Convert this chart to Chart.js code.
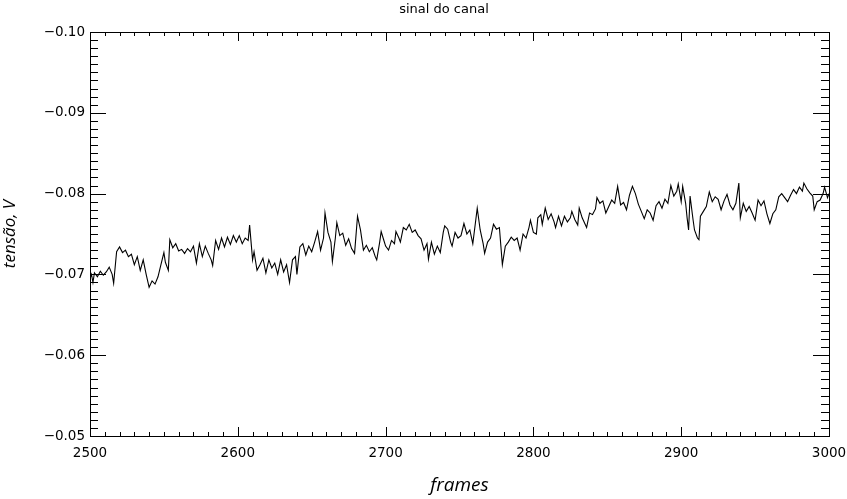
<!DOCTYPE html>
<html>
<head>
<meta charset="utf-8">
<script src="https://cdn.jsdelivr.net/npm/chart.js@4.4.1/dist/chart.umd.min.js"></script>
<style>
  html, body { margin: 0; padding: 0; background: #fff; }
  #wrap { width: 847px; height: 499px; }
</style>
</head>
<body>
<div id="wrap"><canvas id="chart" width="847" height="499"></canvas></div>
<script>
const chartTitle = 'sinal do canal';
const xTitle = 'frames';
const yTitle = 'tensão, V';

// frames
const frames = [
  2500, 2501, 2502, 2503, 2505, 2507, 2509, 2511, 2513, 2515, 2516, 2518, 2520, 2522, 2524, 2526, 2528, 2530, 2532, 2534,
  2536, 2538, 2540, 2542, 2544, 2546, 2548, 2550, 2551, 2553, 2554, 2556, 2558, 2560, 2562, 2564, 2566, 2568, 2570, 2572,
  2574, 2576, 2578, 2580, 2582, 2583, 2585, 2587, 2589, 2591, 2593, 2595, 2597, 2599,
  2601, 2603, 2605, 2607, 2608, 2610, 2611, 2613, 2615, 2617, 2619, 2621, 2623, 2625, 2627, 2629, 2631, 2633, 2635, 2637,
  2639, 2640, 2642, 2644, 2646, 2648, 2650, 2652, 2654, 2656, 2658, 2659, 2661, 2663, 2664, 2666, 2667, 2669, 2671, 2673,
  2675, 2677, 2679, 2681, 2683, 2685, 2687, 2689, 2691, 2693, 2694, 2696, 2697, 2699,
  2700, 2702, 2704, 2706, 2707, 2709, 2710, 2712, 2714, 2716, 2718, 2720, 2722, 2724, 2726, 2728, 2729, 2731, 2733, 2735,
  2737, 2739, 2740, 2742, 2744, 2745, 2747, 2749, 2751, 2753, 2755, 2757, 2759, 2762, 2764, 2766, 2767, 2769, 2771, 2773,
  2775, 2777, 2778, 2779, 2781, 2783, 2785, 2787, 2789, 2791, 2793, 2795, 2797, 2798, 2800,
  2802, 2803, 2805, 2806, 2808, 2810, 2812, 2814, 2815, 2817, 2819, 2821, 2823, 2825, 2826, 2828, 2830, 2831, 2833, 2835,
  2836, 2838, 2840, 2842, 2843, 2845, 2847, 2849, 2851, 2853, 2855, 2857, 2859, 2861, 2863, 2865, 2867, 2869, 2871, 2873,
  2875, 2877, 2879, 2881, 2883, 2885, 2887, 2889, 2891, 2893, 2895, 2897, 2898, 2900,
  2901, 2903, 2904, 2905, 2906, 2908, 2909, 2911, 2912, 2913, 2915, 2917, 2919, 2921, 2923, 2925, 2927, 2929, 2931, 2933,
  2935, 2937, 2939, 2940, 2942, 2944, 2946, 2948, 2950, 2952, 2954, 2956, 2958, 2960, 2962, 2964, 2966, 2968, 2970, 2972,
  2974, 2976, 2978, 2980, 2982, 2983, 2985, 2987, 2989, 2990, 2992, 2994, 2996, 2997, 2999, 3000
];

// tension in volts, same order as frames
const tensao = [
  -0.0695, -0.0700, -0.0690, -0.0702, -0.0697, -0.0704, -0.0699, -0.0703, -0.0709, -0.0700, -0.0689, -0.0728, -0.0734, -0.0727, -0.0730, -0.0722, -0.0725, -0.0712, -0.0722, -0.0705,
  -0.0718, -0.0700, -0.0684, -0.0692, -0.0688, -0.0697, -0.0712, -0.0727, -0.0715, -0.0705, -0.0743, -0.0733, -0.0738, -0.0729, -0.0731, -0.0726, -0.0732, -0.0728, -0.0735, -0.0714,
  -0.0738, -0.0722, -0.0735, -0.0726, -0.0718, -0.0711, -0.0742, -0.0731, -0.0745, -0.0734, -0.0746, -0.0737, -0.0748, -0.0740,
  -0.0748, -0.0738, -0.0745, -0.0742, -0.0761, -0.0718, -0.0728, -0.0705, -0.0712, -0.0720, -0.0702, -0.0718, -0.0708, -0.0714, -0.0700, -0.0718, -0.0703, -0.0712, -0.0690, -0.0718,
  -0.0722, -0.0700, -0.0734, -0.0738, -0.0724, -0.0735, -0.0728, -0.0740, -0.0753, -0.0730, -0.0745, -0.0776, -0.0752, -0.0740, -0.0716, -0.0745, -0.0764, -0.0748, -0.0751, -0.0736,
  -0.0744, -0.0732, -0.0726, -0.0772, -0.0755, -0.0730, -0.0736, -0.0728, -0.0733, -0.0722, -0.0718, -0.0740, -0.0753, -0.0741,
  -0.0735, -0.0730, -0.0742, -0.0738, -0.0753, -0.0745, -0.0740, -0.0758, -0.0755, -0.0762, -0.0752, -0.0755, -0.0748, -0.0744, -0.0730, -0.0738, -0.0719, -0.0740, -0.0725, -0.0735,
  -0.0727, -0.0752, -0.0760, -0.0756, -0.0740, -0.0735, -0.0752, -0.0745, -0.0748, -0.0763, -0.0750, -0.0755, -0.0738, -0.0782, -0.0755, -0.0738, -0.0726, -0.0740, -0.0745, -0.0762,
  -0.0756, -0.0758, -0.0735, -0.0712, -0.0735, -0.0740, -0.0746, -0.0742, -0.0745, -0.0730, -0.0750, -0.0745, -0.0758, -0.0767, -0.0752,
  -0.0750, -0.0770, -0.0774, -0.0762, -0.0782, -0.0768, -0.0775, -0.0765, -0.0758, -0.0772, -0.0760, -0.0772, -0.0765, -0.0770, -0.0778, -0.0768, -0.0761, -0.0782, -0.0770, -0.0762,
  -0.0758, -0.0776, -0.0774, -0.0781, -0.0795, -0.0788, -0.0791, -0.0776, -0.0784, -0.0792, -0.0788, -0.0809, -0.0786, -0.0789, -0.0780, -0.0798, -0.0809, -0.0800, -0.0787, -0.0778,
  -0.0769, -0.0780, -0.0776, -0.0767, -0.0785, -0.0790, -0.0782, -0.0793, -0.0788, -0.0810, -0.0797, -0.0803, -0.0812, -0.0790,
  -0.0809, -0.0788, -0.0770, -0.0755, -0.0797, -0.0768, -0.0755, -0.0745, -0.0743, -0.0772, -0.0778, -0.0784, -0.0802, -0.0790, -0.0796, -0.0793, -0.0780, -0.0791, -0.0799, -0.0786,
  -0.0780, -0.0788, -0.0813, -0.0770, -0.0788, -0.0778, -0.0784, -0.0776, -0.0767, -0.0792, -0.0785, -0.0791, -0.0775, -0.0763, -0.0775, -0.0780, -0.0796, -0.0800, -0.0795, -0.0790,
  -0.0798, -0.0805, -0.0800, -0.0808, -0.0803, -0.0813, -0.0806, -0.0801, -0.0797, -0.0780, -0.0790, -0.0792, -0.0800, -0.0808, -0.0795, -0.0800
];

const xMin = 2500, xMax = 3000, xStep = 100, xMinorStep = 10;
const yMin = -0.10, yMax = -0.05, yStep = 0.01, yMinorStep = 0.001;

const points = frames.map((f, i) => ({ x: f, y: tensao[i] }));

// IDL style box: border on all sides, ticks pointing inward, title on top
const boxPlugin = {
  id: 'box',
  afterDraw(chart) {
    const ctx = chart.ctx;
    const a = chart.chartArea;
    const xs = chart.scales.x;
    const ys = chart.scales.y;
    ctx.save();
    ctx.strokeStyle = '#000';
    ctx.lineWidth = 1;
    ctx.strokeRect(a.left + 0.5, a.top + 0.5, a.right - a.left, a.bottom - a.top);

    ctx.beginPath();
    const nx = Math.round((xMax - xMin) / xMinorStep);
    for (let i = 0; i <= nx; i++) {
      const v = xMin + i * xMinorStep;
      const px = Math.round(xs.getPixelForValue(v)) + 0.5;
      const len = (i % (xStep / xMinorStep) === 0) ? 9 : 4;
      ctx.moveTo(px, a.bottom); ctx.lineTo(px, a.bottom - len);
      ctx.moveTo(px, a.top); ctx.lineTo(px, a.top + len);
    }
    const ny = Math.round((yMax - yMin) / yMinorStep);
    for (let i = 0; i <= ny; i++) {
      const v = yMin + i * yMinorStep;
      const py = Math.round(ys.getPixelForValue(v)) + 0.5;
      const len = (i % 10 === 0) ? 16 : 8;
      ctx.moveTo(a.left, py); ctx.lineTo(a.left + len, py);
      ctx.moveTo(a.right, py); ctx.lineTo(a.right - len, py);
    }
    ctx.stroke();

    ctx.fillStyle = '#000';
    ctx.font = '13px "DejaVu Sans"';
    ctx.textAlign = 'center';
    ctx.textBaseline = 'middle';
    ctx.fillText(chartTitle, 444, 10);
    ctx.restore();
  }
};

new Chart(document.getElementById('chart'), {
  type: 'line',
  data: {
    datasets: [{
      data: points,
      borderColor: '#000',
      borderWidth: 1.1,
      pointRadius: 0,
      tension: 0,
      fill: false
    }]
  },
  options: {
    responsive: false,
    animation: false,
    layout: { padding: { top: 32, right: 18, left: 0, bottom: 0 } },
    plugins: {
      legend: { display: false },
      tooltip: { enabled: false }
    },
    scales: {
      x: {
        type: 'linear',
        min: xMin,
        max: xMax,
        grid: { display: false, drawTicks: false },
        border: { display: false },
        ticks: {
          stepSize: xStep,
          padding: 9,
          color: '#000',
          font: { family: 'DejaVu Sans', size: 13.5 },
          maxRotation: 0,
          callback: v => String(v)
        },
        title: {
          display: true,
          text: xTitle,
          color: '#000',
          font: { family: 'Open Sans', size: 19, style: 'italic' },
          padding: { top: 0, bottom: 2 }
        },
        afterFit: s => { s.height = 63; s.paddingLeft = 0; s.paddingRight = 0; }
      },
      y: {
        type: 'linear',
        reverse: true,
        min: yMin,
        max: yMax,
        grid: { display: false, drawTicks: false },
        border: { display: false },
        ticks: {
          stepSize: yStep,
          padding: 5,
          color: '#000',
          font: { family: 'DejaVu Sans', size: 13.5 },
          callback: v => '\u2212' + Math.abs(v).toFixed(2)
        },
        title: {
          display: true,
          text: yTitle,
          color: '#000',
          font: { family: 'Open Sans', size: 17, style: 'italic' },
          padding: { top: 0, bottom: 0 }
        },
        afterFit: s => { s.width = 90; s.paddingTop = 0; s.paddingBottom = 0; }
      }
    }
  },
  plugins: [boxPlugin]
});
</script>
</body>
</html>
